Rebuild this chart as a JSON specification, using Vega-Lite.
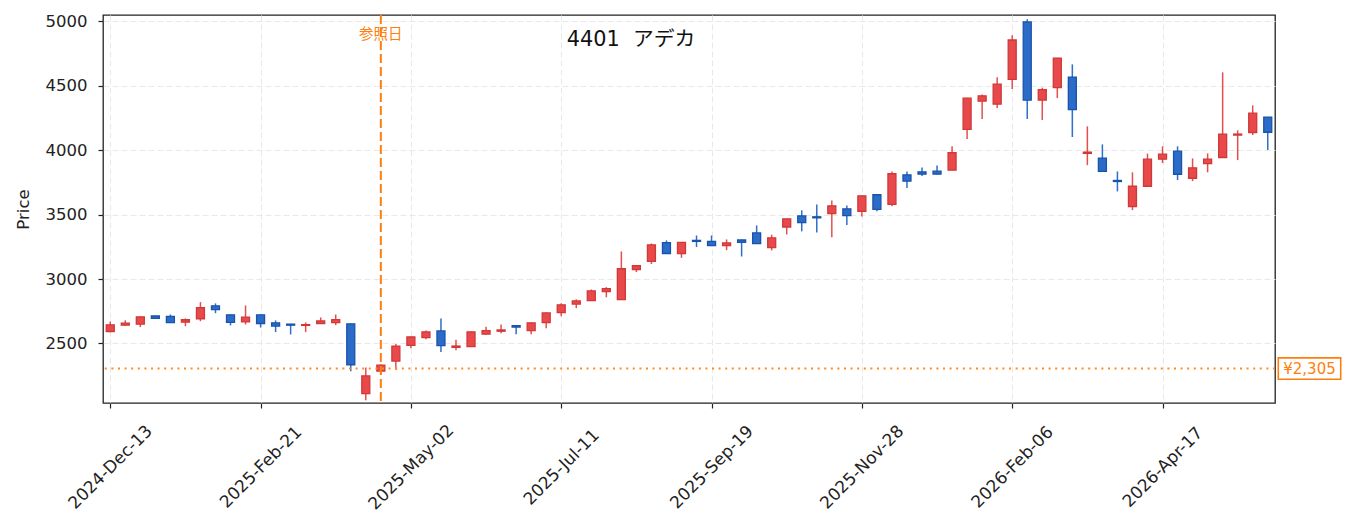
{
  "$schema": "https://vega.github.io/schema/vega-lite/v6.json",
  "width": 1172,
  "height": 388,
  "autosize": {"type": "none"},
  "padding": {"left": 103, "top": 15, "right": 78, "bottom": 128},
  "background": "white",
  "config": {
    "font": "DejaVu Sans, Noto Sans CJK JP",
    "view": {"stroke": "#222222", "strokeWidth": 1.3},
    "axis": {
      "domain": false,
      "grid": true,
      "gridColor": "#e8e8e8",
      "gridDash": [6, 3],
      "gridWidth": 1,
      "tickColor": "#222222",
      "tickSize": 5,
      "tickWidth": 1.2,
      "labelFont": "DejaVu Sans",
      "labelFontSize": 16.5,
      "labelColor": "#222222",
      "labelOverlap": false,
      "titleFont": "DejaVu Sans",
      "titleFontSize": 16.5,
      "titleFontWeight": "normal",
      "titleColor": "#222222"
    }
  },
  "title": {
    "text": "4401\u00a0\u00a0アデカ",
    "orient": "top",
    "anchor": "middle",
    "frame": "group",
    "offset": -53,
    "dx": -58,
    "baseline": "alphabetic",
    "fontSize": 20.8,
    "fontWeight": "normal",
    "color": "#111111",
    "font": "DejaVu Sans, Noto Sans CJK JP"
  },
  "layer": [
    {
      "data": {"name": "ohlc"},
      "mark": {"type": "rule", "strokeWidth": 1.5},
      "encoding": {
        "x": {
          "field": "d",
          "type": "temporal",
          "title": null,
          "scale": {
            "type": "utc",
            "nice": false,
            "padding": 0,
            "domain": [
              {"year": 2024, "month": 12, "date": 9, "hours": 15, "utc": true},
              {"year": 2026, "month": 6, "date": 8, "hours": 9, "utc": true}
            ]
          },
          "axis": {
            "format": "%Y-%b-%d",
            "labelAngle": -45,
            "labelAlign": "center",
            "labelBaseline": "middle",
            "labelPadding": 59,
            "labelFontSize": 17,
            "values": [
              {"year": 2024, "month": 12, "date": 13, "utc": true},
              {"year": 2025, "month": 2, "date": 21, "utc": true},
              {"year": 2025, "month": 5, "date": 2, "utc": true},
              {"year": 2025, "month": 7, "date": 11, "utc": true},
              {"year": 2025, "month": 9, "date": 19, "utc": true},
              {"year": 2025, "month": 11, "date": 28, "utc": true},
              {"year": 2026, "month": 2, "date": 6, "utc": true},
              {"year": 2026, "month": 4, "date": 17, "utc": true}
            ]
          }
        },
        "y": {
          "field": "l",
          "type": "quantitative",
          "title": "Price",
          "scale": {"domain": [2038, 5049], "nice": false, "zero": false},
          "axis": {"values": [2500, 3000, 3500, 4000, 4500, 5000], "format": "d", "labelPadding": 11, "titlePadding": 14}
        },
        "y2": {"field": "h"},
        "color": {
          "condition": {"test": "datum.c >= datum.o", "value": "#e34f4f"},
          "value": "#2f6fc8"
        }
      }
    },
    {
      "data": {"name": "ohlc"},
      "mark": {"type": "bar", "size": 8, "strokeWidth": 1.3},
      "encoding": {
        "x": {"field": "d", "type": "temporal"},
        "y": {"field": "o", "type": "quantitative"},
        "y2": {"field": "c"},
        "fill": {
          "condition": {"test": "datum.c >= datum.o", "value": "#e8494b"},
          "value": "#2a6cc7"
        },
        "stroke": {
          "condition": {"test": "datum.c >= datum.o", "value": "#d13838"},
          "value": "#1a53aa"
        }
      }
    },
    {
      "data": {"values": [{}]},
      "mark": {"type": "rule", "color": "#ff7f0e", "strokeWidth": 2, "strokeDash": [9, 4]},
      "encoding": {
        "x": {"datum": {"year": 2025, "month": 4, "date": 18, "utc": true}, "type": "temporal"}
      }
    },
    {
      "data": {"values": [{}]},
      "mark": {"type": "rule", "color": "#ff8a24", "strokeWidth": 2, "strokeDash": [2, 4.6]},
      "encoding": {
        "y": {"datum": 2305, "type": "quantitative"}
      }
    },
    {
      "data": {"values": [{}]},
      "mark": {"type": "text", "text": "参照日", "font": "Noto Sans CJK JP", "color": "#ff7f0e", "fontSize": 14.5, "align": "center", "baseline": "middle"},
      "encoding": {
        "x": {"datum": {"year": 2025, "month": 4, "date": 18, "utc": true}, "type": "temporal"},
        "y": {"datum": 4893, "type": "quantitative"}
      }
    },
    {
      "data": {"values": [{}]},
      "mark": {
        "type": "point",
        "shape": "M-1,-0.343H1V0.343H-1Z",
        "size": 3894,
        "filled": true,
        "fill": "white",
        "stroke": "#ff7f0e",
        "strokeWidth": 1.6,
        "opacity": 1,
        "xOffset": 34.5
      },
      "encoding": {
        "x": {"datum": {"year": 2026, "month": 6, "date": 8, "hours": 9, "utc": true}, "type": "temporal"},
        "y": {"datum": 2305, "type": "quantitative"}
      }
    },
    {
      "data": {"values": [{}]},
      "mark": {"type": "text", "text": "¥2,305", "font": "DejaVu Sans", "color": "#ff7f0e", "fontSize": 15, "align": "center", "baseline": "middle", "xOffset": 34.5},
      "encoding": {
        "x": {"datum": {"year": 2026, "month": 6, "date": 8, "hours": 9, "utc": true}, "type": "temporal"},
        "y": {"datum": 2305, "type": "quantitative"}
      }
    }
  ],
  "datasets": {
    "ohlc": [
      {"d": "2024-12-13", "o": 2593, "h": 2671, "l": 2588, "c": 2645},
      {"d": "2024-12-20", "o": 2642, "h": 2680, "l": 2638, "c": 2658},
      {"d": "2024-12-27", "o": 2650, "h": 2710, "l": 2627, "c": 2707},
      {"d": "2025-01-03", "o": 2713, "h": 2716, "l": 2692, "c": 2695},
      {"d": "2025-01-10", "o": 2710, "h": 2725, "l": 2660, "c": 2662},
      {"d": "2025-01-17", "o": 2665, "h": 2694, "l": 2634, "c": 2684},
      {"d": "2025-01-24", "o": 2692, "h": 2821, "l": 2673, "c": 2777},
      {"d": "2025-01-31", "o": 2792, "h": 2811, "l": 2735, "c": 2763},
      {"d": "2025-02-07", "o": 2722, "h": 2725, "l": 2640, "c": 2663},
      {"d": "2025-02-14", "o": 2668, "h": 2795, "l": 2647, "c": 2705},
      {"d": "2025-02-21", "o": 2722, "h": 2725, "l": 2624, "c": 2655},
      {"d": "2025-02-28", "o": 2660, "h": 2679, "l": 2588, "c": 2635},
      {"d": "2025-03-07", "o": 2650, "h": 2652, "l": 2570, "c": 2642},
      {"d": "2025-03-14", "o": 2640, "h": 2663, "l": 2588, "c": 2646},
      {"d": "2025-03-21", "o": 2655, "h": 2702, "l": 2652, "c": 2675},
      {"d": "2025-03-28", "o": 2662, "h": 2725, "l": 2642, "c": 2685},
      {"d": "2025-04-04", "o": 2652, "h": 2655, "l": 2285, "c": 2335},
      {"d": "2025-04-11", "o": 2110, "h": 2314, "l": 2060, "c": 2249},
      {"d": "2025-04-18", "o": 2285, "h": 2337, "l": 2262, "c": 2332},
      {"d": "2025-04-25", "o": 2363, "h": 2495, "l": 2296, "c": 2480},
      {"d": "2025-05-02", "o": 2485, "h": 2555, "l": 2463, "c": 2550},
      {"d": "2025-05-09", "o": 2545, "h": 2601, "l": 2533, "c": 2590},
      {"d": "2025-05-16", "o": 2597, "h": 2694, "l": 2433, "c": 2483},
      {"d": "2025-05-23", "o": 2470, "h": 2529, "l": 2448, "c": 2480},
      {"d": "2025-05-30", "o": 2475, "h": 2592, "l": 2473, "c": 2590},
      {"d": "2025-06-06", "o": 2573, "h": 2630, "l": 2565, "c": 2600},
      {"d": "2025-06-13", "o": 2595, "h": 2648, "l": 2580, "c": 2605},
      {"d": "2025-06-20", "o": 2638, "h": 2640, "l": 2572, "c": 2627},
      {"d": "2025-06-27", "o": 2600, "h": 2662, "l": 2572, "c": 2660},
      {"d": "2025-07-04", "o": 2662, "h": 2740, "l": 2619, "c": 2737},
      {"d": "2025-07-11", "o": 2740, "h": 2813, "l": 2712, "c": 2800},
      {"d": "2025-07-18", "o": 2806, "h": 2842, "l": 2774, "c": 2830},
      {"d": "2025-07-25", "o": 2832, "h": 2919, "l": 2830, "c": 2908},
      {"d": "2025-08-01", "o": 2902, "h": 2937, "l": 2859, "c": 2926},
      {"d": "2025-08-08", "o": 2840, "h": 3214, "l": 2838, "c": 3080},
      {"d": "2025-08-15", "o": 3074, "h": 3105, "l": 3054, "c": 3103},
      {"d": "2025-08-22", "o": 3137, "h": 3276, "l": 3116, "c": 3265},
      {"d": "2025-08-29", "o": 3283, "h": 3300, "l": 3196, "c": 3198},
      {"d": "2025-09-05", "o": 3197, "h": 3288, "l": 3165, "c": 3285},
      {"d": "2025-09-12", "o": 3300, "h": 3338, "l": 3248, "c": 3292},
      {"d": "2025-09-19", "o": 3293, "h": 3338, "l": 3257, "c": 3260},
      {"d": "2025-09-26", "o": 3260, "h": 3307, "l": 3224, "c": 3280},
      {"d": "2025-10-03", "o": 3303, "h": 3306, "l": 3175, "c": 3284},
      {"d": "2025-10-10", "o": 3358, "h": 3416, "l": 3273, "c": 3275},
      {"d": "2025-10-17", "o": 3244, "h": 3344, "l": 3222, "c": 3320},
      {"d": "2025-10-24", "o": 3404, "h": 3470, "l": 3346, "c": 3467},
      {"d": "2025-10-31", "o": 3490, "h": 3533, "l": 3370, "c": 3438},
      {"d": "2025-11-07", "o": 3483, "h": 3579, "l": 3362, "c": 3475},
      {"d": "2025-11-14", "o": 3508, "h": 3610, "l": 3325, "c": 3568},
      {"d": "2025-11-21", "o": 3545, "h": 3571, "l": 3419, "c": 3492},
      {"d": "2025-11-28", "o": 3526, "h": 3648, "l": 3486, "c": 3646},
      {"d": "2025-12-05", "o": 3654, "h": 3656, "l": 3527, "c": 3540},
      {"d": "2025-12-12", "o": 3580, "h": 3835, "l": 3564, "c": 3817},
      {"d": "2025-12-19", "o": 3808, "h": 3835, "l": 3706, "c": 3760},
      {"d": "2025-12-26", "o": 3832, "h": 3866, "l": 3799, "c": 3814},
      {"d": "2026-01-02", "o": 3837, "h": 3882, "l": 3812, "c": 3814},
      {"d": "2026-01-09", "o": 3845, "h": 4030, "l": 3843, "c": 3980},
      {"d": "2026-01-16", "o": 4162, "h": 4406, "l": 4086, "c": 4404},
      {"d": "2026-01-23", "o": 4380, "h": 4433, "l": 4242, "c": 4422},
      {"d": "2026-01-30", "o": 4357, "h": 4565, "l": 4327, "c": 4512},
      {"d": "2026-02-06", "o": 4550, "h": 4891, "l": 4474, "c": 4855},
      {"d": "2026-02-13", "o": 4995, "h": 5016, "l": 4242, "c": 4388},
      {"d": "2026-02-20", "o": 4388, "h": 4485, "l": 4234, "c": 4470},
      {"d": "2026-02-27", "o": 4486, "h": 4717, "l": 4405, "c": 4715},
      {"d": "2026-03-06", "o": 4567, "h": 4666, "l": 4102, "c": 4315},
      {"d": "2026-03-13", "o": 3975, "h": 4185, "l": 3884, "c": 3985},
      {"d": "2026-03-20", "o": 3938, "h": 4045, "l": 3833, "c": 3835},
      {"d": "2026-03-27", "o": 3765, "h": 3835, "l": 3680, "c": 3757},
      {"d": "2026-04-03", "o": 3562, "h": 3828, "l": 3535, "c": 3720},
      {"d": "2026-04-10", "o": 3720, "h": 3973, "l": 3718, "c": 3930},
      {"d": "2026-04-17", "o": 3930, "h": 4030, "l": 3900, "c": 3969},
      {"d": "2026-04-24", "o": 3992, "h": 4030, "l": 3768, "c": 3813},
      {"d": "2026-05-01", "o": 3782, "h": 3936, "l": 3760, "c": 3863},
      {"d": "2026-05-08", "o": 3896, "h": 3975, "l": 3828, "c": 3930},
      {"d": "2026-05-15", "o": 3943, "h": 4604, "l": 3942, "c": 4125},
      {"d": "2026-05-22", "o": 4117, "h": 4154, "l": 3923, "c": 4125},
      {"d": "2026-05-29", "o": 4137, "h": 4348, "l": 4117, "c": 4287},
      {"d": "2026-06-05", "o": 4257, "h": 4258, "l": 4001, "c": 4139}
    ]
  }
}
